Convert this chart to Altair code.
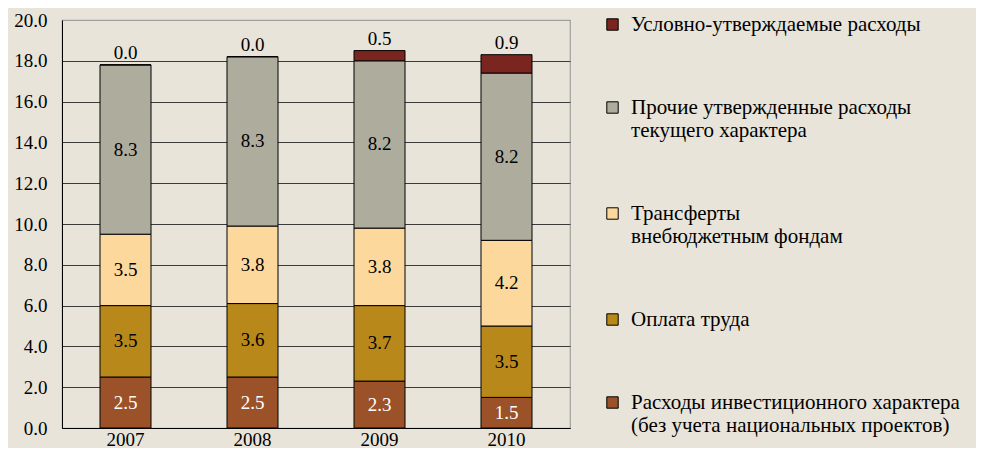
import altair as alt
import pandas as pd

years = ["2007", "2008", "2009", "2010"]
categories = [
    "Расходы инвестиционного характера\n(без учета национальных проектов)",
    "Оплата труда",
    "Трансферты\nвнебюджетным фондам",
    "Прочие утвержденные расходы\nтекущего характера",
    "Условно-утверждаемые расходы",
]
invest = [2.5, 2.5, 2.3, 1.5]
labor = [3.5, 3.6, 3.7, 3.5]
transfers = [3.5, 3.8, 3.8, 4.2]
other = [8.3, 8.3, 8.2, 8.2]
conditional = [0.0, 0.0, 0.5, 0.9]
colors = ["#9c5229", "#b8891a", "#fcd89c", "#aeac9d", "#7b2520"]

series = [invest, labor, transfers, other, conditional]
rows = []
for yi, yr in enumerate(years):
    base = 0.0
    for ci, cat in enumerate(categories):
        v = series[ci][yi]
        rows.append(dict(year=yr, cat=cat, order=ci, value=v, y0=base, y1=base + v,
                         mid=base + v / 2, top=(ci == len(categories) - 1),
                         white=(ci == 0)))
        base += v
df = pd.DataFrame(rows)

FONT = "Liberation Serif"
FS = 19

base = alt.Chart(df)

bars = base.mark_bar(stroke="black", strokeWidth=1, width=51).encode(
    x=alt.X("year:N", title=None,
            axis=alt.Axis(labelAngle=0, labelFontSize=FS, labelColor="black",
                          labelFont=FONT, domainColor="black", ticks=False,
                          labelPadding=2)),
    y=alt.Y("y0:Q", title=None, scale=alt.Scale(domain=[0, 20]),
            axis=alt.Axis(values=[0, 2, 4, 6, 8, 10, 12, 14, 16, 18, 20], format=".1f",
                          labelFontSize=FS, labelFont=FONT, labelColor="black",
                          ticks=False, domainColor="black", labelPadding=15,
                          gridColor={"condition": {"test": "datum.value == 20", "value": "#a0a0a0"},
                                     "value": "#3a3a3a"},
                          gridOpacity=1, gridWidth=1.2)),
    y2="y1:Q",
    color=alt.Color("cat:N", scale=alt.Scale(domain=categories[::-1], range=colors[::-1]),
                    legend=alt.Legend(title=None, orient="none", legendX=540, legendY=-6,
                                      symbolType="square", symbolSize=130,
                                      symbolStrokeColor="black", symbolStrokeWidth=1,
                                      labelFont=FONT, labelFontSize=21, labelColor="black",
                                      labelExpr="split(datum.label, '\\n')",
                                      labelLimit=400, rowPadding=61, labelOffset=8,
                                      symbolOpacity=1)),
    order=alt.Order("order:Q"),
)

mid_labels = base.transform_filter("!datum.top").mark_text(
    font=FONT, fontSize=FS, baseline="middle"
).encode(
    x="year:N",
    y="mid:Q",
    text=alt.Text("value:Q", format=".1f"),
    color=alt.condition("datum.white", alt.value("white"), alt.value("black")),
)

top_labels = base.transform_filter("datum.top").mark_text(
    font=FONT, fontSize=FS, baseline="bottom", dy=-2
).encode(
    x="year:N",
    y="y1:Q",
    text=alt.Text("value:Q", format=".1f"),
)

chart = alt.layer(bars, mid_labels, top_labels).properties(
    width=508, height=408,
    background="#e8e4d9",
    padding={"left": 54, "top": 12, "right": 406, "bottom": 20},
    autosize=alt.AutoSizeParams(type="none"),
).configure_view(stroke="#a0a0a0", strokeWidth=1.2).configure_scale(bandPaddingInner=0.6, bandPaddingOuter=0.3)

chart.save("out.html", embed_options={"renderer": "svg", "actions": False})
